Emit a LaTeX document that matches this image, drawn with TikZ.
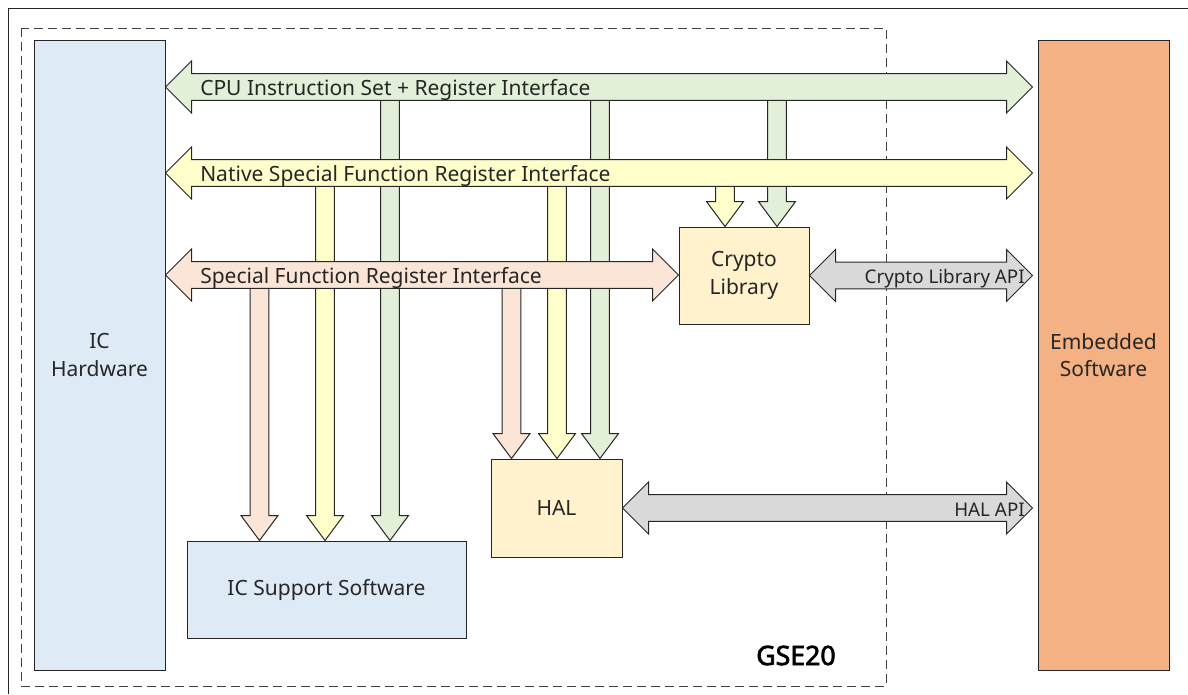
\documentclass[tikz,border=0pt]{standalone}
\usepackage{fontspec}
\setmainfont{Noto Sans}[AutoFakeBold=2.5]
\usetikzlibrary{calc}
\definecolor{hwblue}{HTML}{DEEBF7}
\definecolor{esorange}{HTML}{F4B183}
\definecolor{cpugreen}{HTML}{E2F0D9}
\definecolor{nsfryellow}{HTML}{FFFFCC}
\definecolor{sfrpeach}{HTML}{FBE5D6}
\definecolor{libyellow}{HTML}{FFF2CC}
\definecolor{apigray}{HTML}{D9D9D9}
\definecolor{edge}{HTML}{262626}
\newcommand{\busarrow}[3]{\draw[#1] let \p1=(#2), \p2=(#3) in
  (\x1,\y1) -- (\x1+19.5pt,\y1+19.5pt) -- (\x1+19.5pt,\y1+10.1pt) -- (\x2-19.5pt,\y1+10.1pt)
  -- (\x2-19.5pt,\y1+19.5pt) -- (\x2,\y1) -- (\x2-19.5pt,\y1-19.5pt) -- (\x2-19.5pt,\y1-10.1pt)
  -- (\x1+19.5pt,\y1-10.1pt) -- (\x1+19.5pt,\y1-19.5pt) -- cycle;}
\newcommand{\droparrow}[3]{\draw[#1] let \p1=(#2), \p2=(#3) in
  (\x1-7.1pt,\y1) -- (\x1+7.1pt,\y1) -- (\x1+7.1pt,\y2+18.75pt) -- (\x1+13.9pt,\y2+18.75pt)
  -- (\x1,\y2) -- (\x1-13.9pt,\y2+18.75pt) -- (\x1-7.1pt,\y2+18.75pt) -- cycle;}
\begin{document}
\begin{tikzpicture}[x=0.75pt, y=-0.75pt,
  box/.style={draw=edge, line width=0.75pt, align=center, text=black!85, inner sep=0pt,
    font=\fontsize{15.75}{20.5}\selectfont},
  hwbox/.style={box, fill=hwblue, minimum width=98.25pt, minimum height=472.5pt},
  esbox/.style={box, fill=esorange, minimum width=98.25pt, minimum height=472.5pt},
  libbox/.style={box, fill=libyellow, minimum width=97.5pt, minimum height=72.75pt},
  swbox/.style={box, fill=hwblue, minimum width=209.25pt, minimum height=72.75pt},
  arrowline/.style={draw=edge, line width=0.75pt, line join=miter},
  cpuarrow/.style={arrowline, fill=cpugreen},
  nsfrarrow/.style={arrowline, fill=nsfryellow},
  sfrarrow/.style={arrowline, fill=sfrpeach},
  apiarrow/.style={arrowline, fill=apigray},
  buslabel/.style={anchor=base west, inner sep=0pt, text=black!85, font=\fontsize{15.75}{18}\selectfont},
  apilabel/.style={anchor=base east, inner sep=0pt, text=black!85, font=\fontsize{14.1}{16}\selectfont}]
\useasboundingbox (0,0) rectangle (1188,694);
\draw[line width=0.75pt, edge] (8,694) -- (8,8) -- (1188,8);
\draw[line width=0.75pt, black!75, dash pattern=on 6.75pt off 3.75pt] (21,28) rectangle (886,686);
\node[hwbox] (hw) at (99.5,355) {IC\\Hardware};
\node[esbox] (es) at (1103.5,355) {Embedded\\Software};
\node[libbox] (crypto) at (744,275.5) {Crypto\\Library};
\node[libbox, minimum width=98.25pt, minimum height=73.5pt] (hal) at (556.5,508) {HAL};
\node[swbox] (isw) at (326.5,589.5) {IC Support Software};
\coordinate (cpuL) at (hw.east |- 0,87);
\coordinate (cpuR) at ($(es.west |- 0,87)+(-5,0)$);
\coordinate (nsfrL) at (hw.east |- 0,173);
\coordinate (nsfrR) at ($(es.west |- 0,173)+(-5,0)$);
\coordinate (sfrL) at (hw.east |- 0,275);
\coordinate (sfrR) at (crypto.west);
\coordinate (capiL) at (crypto.east);
\coordinate (capiR) at ($(es.west |- 0,275)+(-5,0)$);
\coordinate (halapiL) at (hal.east);
\coordinate (halapiR) at ($(es.west |- 0,508)+(-5,0)$);
\droparrow{cpuarrow}{390,0 |- cpuL}{390,0 |- isw.north}
\droparrow{cpuarrow}{600,0 |- cpuL}{600,0 |- hal.north}
\droparrow{cpuarrow}{777,0 |- cpuL}{777,0 |- crypto.north}
\droparrow{nsfrarrow}{325,0 |- nsfrL}{325,0 |- isw.north}
\droparrow{nsfrarrow}{557,0 |- nsfrL}{557,0 |- hal.north}
\droparrow{nsfrarrow}{725,0 |- nsfrL}{725,0 |- crypto.north}
\droparrow{sfrarrow}{259.5,0 |- sfrL}{259.5,0 |- isw.north}
\droparrow{sfrarrow}{511.5,0 |- sfrL}{511.5,0 |- hal.north}
\busarrow{cpuarrow}{cpuL}{cpuR}
\busarrow{nsfrarrow}{nsfrL}{nsfrR}
\busarrow{sfrarrow}{sfrL}{sfrR}
\busarrow{apiarrow}{capiL}{capiR}
\busarrow{apiarrow}{halapiL}{halapiR}
\node[buslabel] (cpulbl) at (200,95) {CPU Instruction Set + Register Interface};
\node[buslabel] (nsfrlbl) at (200,181.5) {Native Special Function Register Interface};
\node[buslabel] (sfrlbl) at (200,283) {Special Function Register Interface};
\node[apilabel] (capilbl) at (1025,283) {Crypto Library API};
\node[apilabel] (halapilbl) at (1025,516) {HAL API};
\node[anchor=base west, inner sep=0pt, font=\bfseries\fontsize{20}{24}\selectfont] (gse) at (756,665) {GSE20};
\end{tikzpicture}
\end{document}
